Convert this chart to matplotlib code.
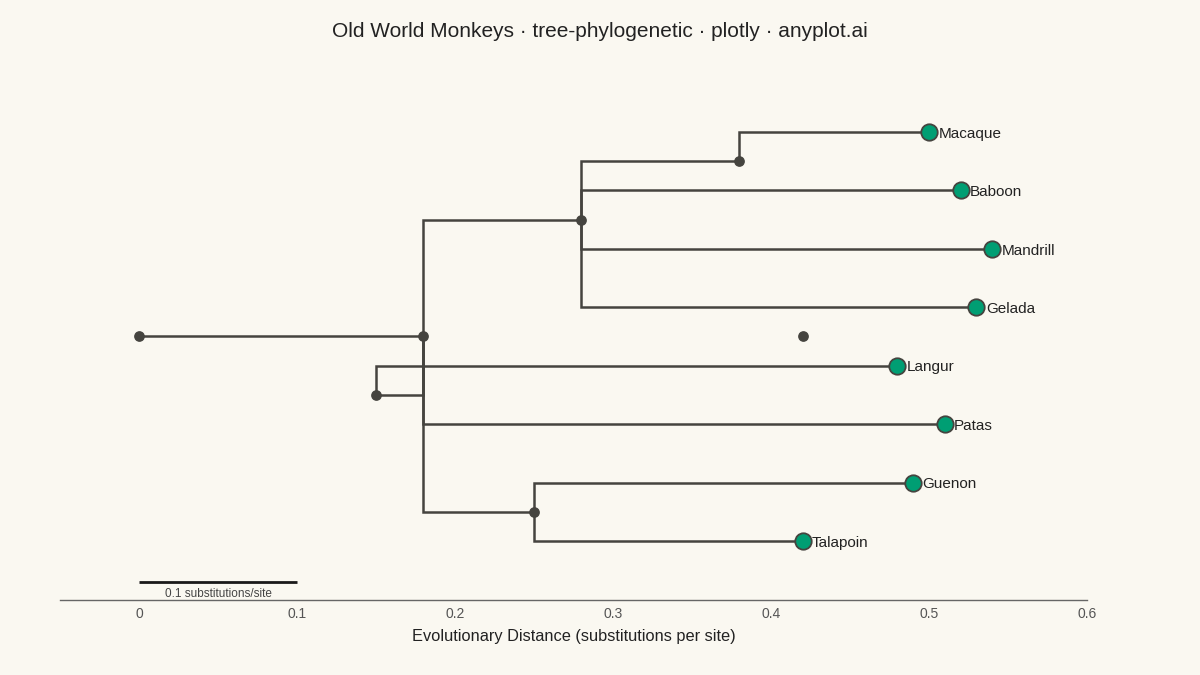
import matplotlib.pyplot as plt

plt.rcParams['font.family'] = ['Liberation Sans', 'DejaVu Sans']

# leaves (top to bottom)
leaves = ["Macaque", "Baboon", "Mandrill", "Gelada", "Langur", "Patas", "Guenon", "Talapoin"]
leaf_x = [0.50, 0.52, 0.54, 0.53, 0.48, 0.51, 0.49, 0.42]
leaf_y = [0, 1, 2, 3, 4, 5, 6, 7]
leaf_parent = ["n3", "n2", "n2", "n2", "n4", "n1", "n5", "n5"]

# internal nodes
node_names = ["root", "n1", "n2", "n3", "n4", "n5", "n6"]
node_x = [0.0, 0.18, 0.28, 0.38, 0.15, 0.25, 0.42]
node_y = [3.5, 3.5, 1.5, 0.5, 4.5, 6.5, 3.5]
node_parent = [None, "root", "n1", "n2", "n1", "n1", None]

x_ticks = [0, 0.1, 0.2, 0.3, 0.4, 0.5, 0.6]
x_tick_labels = ["0", "0.1", "0.2", "0.3", "0.4", "0.5", "0.6"]

bg = "#FAF8F1"
line_c = "#45443F"
leaf_c = "#009E73"

fig = plt.figure(figsize=(12, 6.75), dpi=100, facecolor=bg)
ax = fig.add_axes([0.05, 0.1111, 0.8558, 0.7408])
ax.set_facecolor(bg)

pos = {n: (x, y) for n, x, y in zip(node_names, node_x, node_y)}


def elbow(px, py, cx, cy):
    ax.plot([px, px, cx], [py, cy, cy], color=line_c, lw=1.8,
            solid_capstyle='butt', solid_joinstyle='miter', zorder=2)


for n, p in zip(node_names, node_parent):
    if p is not None:
        elbow(pos[p][0], pos[p][1], pos[n][0], pos[n][1])

for name, x, y, p in zip(leaves, leaf_x, leaf_y, leaf_parent):
    elbow(pos[p][0], pos[p][1], x, y)

ax.scatter(node_x, node_y, s=45, color=line_c, zorder=3)
ax.scatter(leaf_x, leaf_y, s=140, color=leaf_c, edgecolor=line_c, linewidth=1.3, zorder=4)

for name, x, y in zip(leaves, leaf_x, leaf_y):
    ax.text(x + 0.006, y + 0.03, name, fontsize=11, color="#222222", va='center', ha='left')

# scale bar
ax.plot([0, 0.1], [7.70, 7.70], color="#1a1a1a", lw=2, solid_capstyle='butt')
ax.text(0.05, 7.90, "0.1 substitutions/site", fontsize=8.5, color="#444444",
        ha='center', va='center')

ax.set_xlim(-0.05, 0.6)
ax.set_ylim(8.01, -0.548)
ax.set_xticks(x_ticks)
ax.set_xticklabels(x_tick_labels, fontsize=10, color="#555555")
ax.set_yticks([])
ax.tick_params(axis='x', length=0, pad=5)
for s in ["top", "right", "left"]:
    ax.spines[s].set_visible(False)
ax.spines["bottom"].set_color("#666666")
ax.spines["bottom"].set_linewidth(1)
ax.set_xlabel("Evolutionary Distance (substitutions per site)", fontsize=11.8,
              color="#222222", labelpad=6)

fig.text(0.5, 0.953, "Old World Monkeys · tree-phylogenetic · plotly · anyplot.ai",
         fontsize=15, color="#222222", ha='center', va='center')

fig.savefig("out.png", dpi=100, facecolor=bg)
